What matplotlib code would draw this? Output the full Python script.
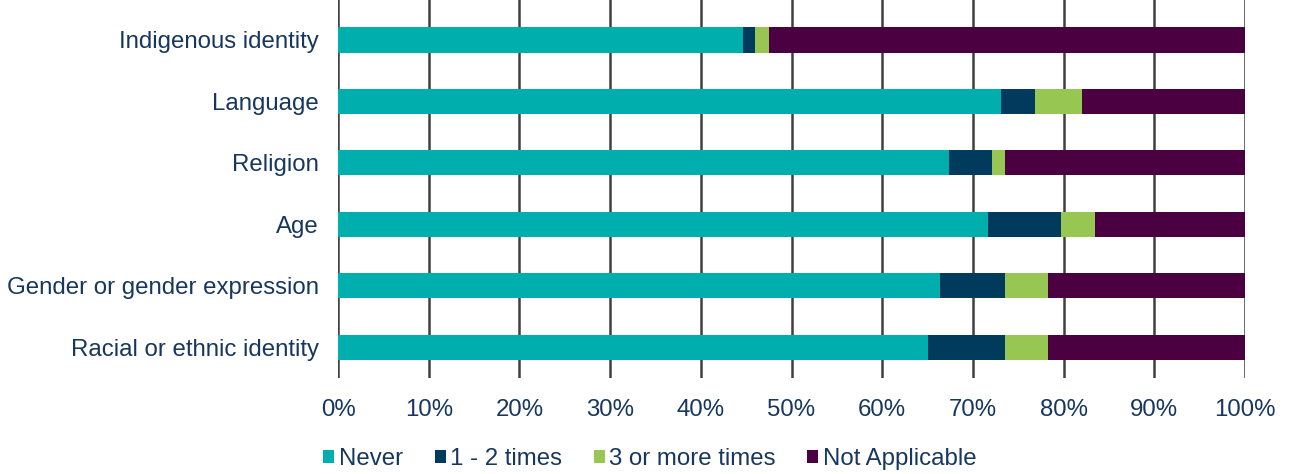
import matplotlib.pyplot as plt
from matplotlib.ticker import PercentFormatter

plt.rcParams['font.family'] = ['Liberation Sans', 'DejaVu Sans']

categories = ['Indigenous identity', 'Language', 'Religion', 'Age',
              'Gender or gender expression', 'Racial or ethnic identity']
never = [44.6, 73.1, 67.4, 71.7, 66.4, 65.0]
once_twice = [1.4, 3.8, 4.7, 8.0, 7.1, 8.5]
three_plus = [1.5, 5.1, 1.4, 3.8, 4.8, 4.8]
not_applicable = [52.5, 18.0, 26.5, 16.5, 21.7, 21.7]

series = [('Never', never, '#00AEAE'),
          ('1 - 2 times', once_twice, '#003A5D'),
          ('3 or more times', three_plus, '#97C653'),
          ('Not Applicable', not_applicable, '#4B0041')]
text_col = '#17375E'
fs = 17.3

fig = plt.figure(figsize=(12.93, 4.74), dpi=100)
ax = fig.add_axes([338/1293, 1 - 378/474, (1245 - 338)/1293, 378/474])

ypos = list(range(len(categories)))
left = [0.0] * len(categories)
for name, vals, col in series:
    ax.barh(ypos, vals, left=left, height=0.41, color=col, label=name, zorder=3)
    left = [l + v for l, v in zip(left, vals)]

ax.set_ylim(len(categories) - 0.5, -0.65)
ax.set_xlim(0, 100)
ax.set_xticks(range(0, 101, 10))
ax.xaxis.set_major_formatter(PercentFormatter(decimals=0))
ax.set_yticks(ypos)
ax.set_yticklabels(categories)
ax.tick_params(axis='both', length=0, labelsize=fs, colors=text_col)
ax.tick_params(axis='x', pad=15)
ax.tick_params(axis='y', pad=14)
ax.grid(axis='x', color='#404040', linewidth=1.8, zorder=0)
for s in ax.spines.values():
    s.set_visible(False)

fig.legend(handles=ax.get_legend_handles_labels()[0], loc='center',
           bbox_to_anchor=(650/1293, 1 - 459/474), ncol=4, frameon=False,
           fontsize=fs, labelcolor=text_col, handlelength=0.46, handleheight=0.46,
           handletextpad=0.2, columnspacing=1.3, borderaxespad=0)

fig.savefig('out.png', dpi=100)
